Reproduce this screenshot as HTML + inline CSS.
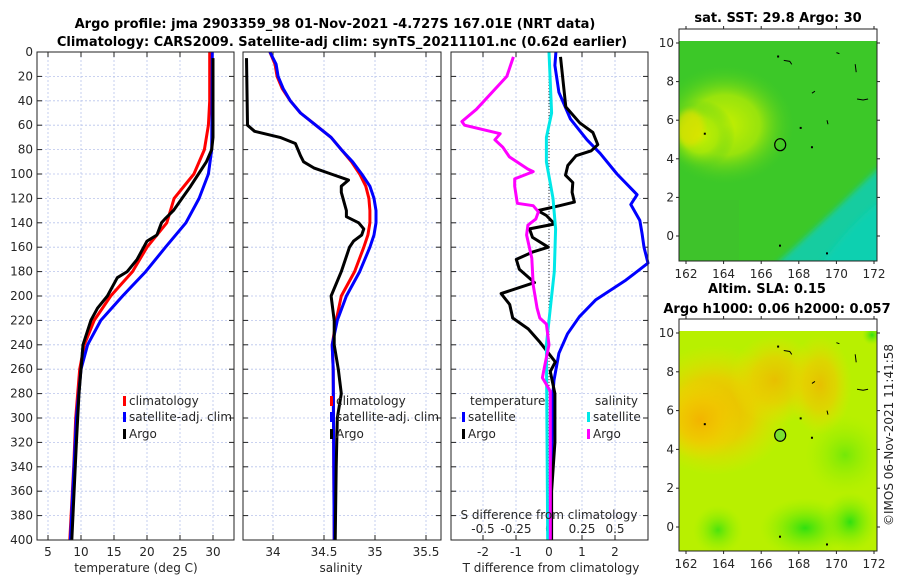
<!DOCTYPE html>
<html><head><meta charset="utf-8"><style>
body{margin:0;background:#fff;}
svg{display:block;font-family:"DejaVu Sans","Liberation Sans",sans-serif;}
.t{font-size:12px;fill:#262626;}
.ttl{font-size:13px;font-weight:bold;fill:#000;}
</style></head><body>
<svg id="c" width="900" height="580" viewBox="0 0 900 580">
<defs>
<radialGradient id="gy" cx="0.5" cy="0.5" r="0.5"><stop offset="0" stop-color="#c8f000"/><stop offset="0.5" stop-color="#a8e808" stop-opacity="0.85"/><stop offset="1" stop-color="#44cc22" stop-opacity="0"/></radialGradient>
<radialGradient id="go" cx="0.5" cy="0.5" r="0.5"><stop offset="0" stop-color="#f2b400"/><stop offset="0.5" stop-color="#f0c800" stop-opacity="0.8"/><stop offset="1" stop-color="#e8e000" stop-opacity="0"/></radialGradient>
<radialGradient id="gg" cx="0.5" cy="0.5" r="0.5"><stop offset="0" stop-color="#30e010"/><stop offset="1" stop-color="#90ee00" stop-opacity="0"/></radialGradient>
<filter id="bl"><feGaussianBlur stdDeviation="3"/></filter>
</defs>
<text class="ttl" x="335" y="28" text-anchor="middle">Argo profile: jma 2903359_98 01-Nov-2021 -4.727S 167.01E (NRT data)</text>
<text class="ttl" x="342" y="46" text-anchor="middle">Climatology: CARS2009. Satellite-adj clim: synTS_20211101.nc (0.62d earlier)</text>
<g id="maps"></g>
<g id="plots"></g>
</svg>
<script>
// ---- data (depth in m) ----
const tClimD=[0,40,60,80,100,120,140,160,180,200,220,240,260,300,340,400];
const tClimV=[29.5,29.5,29.3,28.7,27.1,24.1,23.0,20.0,17.8,14.5,12.0,10.5,9.8,9.2,8.9,8.3];
const tSatD=[0,80,100,120,140,160,180,200,220,240,260,300,400];
const tSatV=[29.9,29.8,29.3,27.9,25.9,22.8,19.8,16.3,13.0,11.0,10.0,9.3,8.4];
const tArgoD=[5,70,80,90,100,110,120,130,137,140,150,155,160,170,180,185,190,195,200,210,220,240,260,280,320,400];
const tArgoV=[30.0,30.0,29.8,29.0,27.8,26.6,25.3,24.0,22.7,22.2,21.5,20.0,19.5,18.5,17.0,15.5,15.0,14.5,14.0,12.5,11.5,10.3,10.0,9.7,9.3,8.6];
const sClimD=[0,10,20,30,40,50,60,70,80,90,100,110,120,130,140,150,160,180,200,220,240,260,400];
const sClimV=[33.97,34.02,34.04,34.09,34.17,34.27,34.42,34.57,34.67,34.77,34.85,34.91,34.94,34.95,34.95,34.93,34.89,34.80,34.67,34.62,34.58,34.59,34.60];
const sSatD=[0,10,20,30,40,50,60,70,80,90,100,110,120,130,140,150,160,180,200,220,240,260,400];
const sSatV=[33.97,34.03,34.05,34.10,34.17,34.27,34.42,34.57,34.67,34.78,34.87,34.95,34.99,35.01,35.01,34.99,34.95,34.85,34.72,34.63,34.58,34.59,34.60];
const sArgoD=[5,60,65,70,75,85,90,95,100,105,110,115,130,135,140,145,150,155,160,180,200,220,240,260,280,300,340,400];
const sArgoV=[33.74,33.75,33.82,34.07,34.22,34.27,34.30,34.40,34.57,34.74,34.67,34.67,34.72,34.72,34.84,34.89,34.87,34.79,34.75,34.67,34.57,34.60,34.60,34.64,34.67,34.63,34.62,34.61];
const dTSatD=[0,11,33,55,72,83,100,117,125,138,149,160,173,187,203,217,231,247,269,286,400];
const dTSatV=[0.21,0.18,0.30,0.65,1.15,1.55,2.06,2.67,2.48,2.75,2.82,2.88,3.0,2.33,1.42,0.92,0.56,0.30,0.15,0.10,0.06];
const dTArgoD=[4,45,58,66,76,81,85,93,101,107,115,123,126,130,134,141,145,152,160,164,170,178,189,198,207,218,227,238,254,262,280,320,360,400];
const dTArgoV=[0.35,0.51,0.93,1.33,1.48,1.28,0.82,0.57,0.50,0.72,0.70,0.77,0.32,-0.34,-0.08,0.17,-0.59,-0.50,-0.02,-0.50,-0.99,-0.90,-0.44,-1.45,-1.19,-1.10,-0.63,-0.27,0.19,0.04,0.18,0.18,0.08,0.08];
const dSSatD=[0,50,70,90,120,145,180,210,240,400];
const dSSatV=[0.0,0.02,-0.02,-0.02,0.03,0.05,0.04,0.01,-0.02,-0.01];
const dSArgoD=[4,20,47,57,60,67,72,78,86,96,98,104,110,124,126,131,137,142,150,169,191,210,218,223,240,256,267,278,400];
const dSArgoV=[-0.27,-0.32,-0.55,-0.66,-0.64,-0.37,-0.41,-0.35,-0.30,-0.16,-0.12,-0.26,-0.26,-0.24,-0.12,-0.08,-0.10,-0.16,-0.17,-0.13,-0.12,-0.09,-0.07,-0.02,0.0,-0.03,-0.05,0.01,0.01];
const depthTicks=[0,20,40,60,80,100,120,140,160,180,200,220,240,260,280,300,320,340,360,380,400];
const tTicks=[5,10,15,20,25,30];
const sTicks=[34,34.5,35,35.5];
const dTTicks=[-2,-1,0,1,2];
const dSTicks=[-0.5,-0.25,0,0.25,0.5];
const latTicks=[0,2,4,6,8,10];
const lonTicks=[162,164,166,168,170,172];

const NS='http://www.w3.org/2000/svg';
const plots=document.getElementById('plots'), maps=document.getElementById('maps');
function mk(tag,attrs,parent){const e=document.createElementNS(NS,tag);for(const k in attrs)e.setAttribute(k,attrs[k]);(parent||plots).appendChild(e);return e;}
const Y0=52,Y1=540;
const yD=d=>Y0+d*(Y1-Y0)/400;
const xT=v=>48+(v-5)*6.6;
const xS=v=>273+(v-34)*102;
const xDT=v=>549+v*33;
const xDS=v=>549+v*132;
const panels=[[37,234],[243,441],[451,648]];

panels.forEach((p,i)=>{
  depthTicks.forEach(d=>{
    const g=mk('line',{x1:p[0],x2:p[1],y1:yD(d),y2:yD(d),stroke:'#b8c4ec','stroke-width':0.8,'stroke-dasharray':'2,2'});
    
    
    mk('line',{x1:p[0],x2:p[0]+5,y1:yD(d),y2:yD(d),stroke:'#222'});
    mk('line',{x1:p[1]-5,x2:p[1],y1:yD(d),y2:yD(d),stroke:'#222'});
    if(i===0){const t=mk('text',{x:33,y:yD(d)+4,'text-anchor':'end',class:'t'});t.textContent=d;
      
      }
  });
});
function xgrid(ticks,fx,p,lblY,name){
  ticks.forEach(v=>{
    const g=mk('line',{x1:fx(v),x2:fx(v),y1:Y0,y2:Y1,stroke:'#b8c4ec','stroke-width':0.8,'stroke-dasharray':'2,2'});
    
    
    mk('line',{x1:fx(v),x2:fx(v),y1:Y0,y2:Y0+5,stroke:'#222'});
    mk('line',{x1:fx(v),x2:fx(v),y1:Y1-5,y2:Y1,stroke:'#222'});
    if(lblY){const t=mk('text',{x:fx(v),y:lblY,'text-anchor':'middle',class:'t'});t.textContent=String(v);
      
      }
  });
}
xgrid(tTicks,xT,panels[0],556,'temperature-tick-label');
xgrid(sTicks,xS,panels[1],556,'salinity-tick-label');
xgrid(dTTicks,xDT,panels[2],556,'t-diff-tick-label');
dSTicks.forEach(v=>{const t=mk('text',{x:xDS(v),y:533,'text-anchor':'middle',class:'t'});t.textContent=String(v);
  
  });
mk('line',{x1:549,x2:549,y1:Y0,y2:Y1,stroke:'#333','stroke-width':1,'stroke-dasharray':'1,2'});

function series(D,V,fx,color,name,w){
  const pts=D.map((d,i)=>fx(V[i]).toFixed(1)+','+yD(d).toFixed(1)).join(' ');
  const l=mk('polyline',{points:pts,fill:'none',stroke:color,'stroke-width':w||3,'stroke-linejoin':'round'});
  
  
}
series(tClimD,tClimV,xT,'#ff0000','temp-climatology-line');
series(tSatD,tSatV,xT,'#0000ff','temp-satellite-line');
series(tArgoD,tArgoV,xT,'#000000','temp-argo-line');
series(sClimD,sClimV,xS,'#ff0000','sal-climatology-line');
series(sSatD,sSatV,xS,'#0000ff','sal-satellite-line');
series(sArgoD,sArgoV,xS,'#000000','sal-argo-line');
series(dTSatD,dTSatV,xDT,'#0000ff','tdiff-satellite-line');
series(dTArgoD,dTArgoV,xDT,'#000000','tdiff-argo-line');
series(dSSatD,dSSatV,xDS,'#00e8e8','sdiff-satellite-line');
series(dSArgoD,dSArgoV,xDS,'#ff00ff','sdiff-argo-line');

panels.forEach(p=>{const r=mk('rect',{x:p[0],y:Y0,width:p[1]-p[0],height:Y1-Y0,fill:'none',stroke:'#222','stroke-width':1});
  
  });

function txt(x,y,s,name,anchor,cls){const t=mk('text',{x:x,y:y,'text-anchor':anchor||'start',class:cls||'t'});t.textContent=s;
  
  return t;}
function leg(x,y,c,s,name){mk('rect',{x:x,y:y-9,width:3,height:10,fill:c});txt(x+6,y,s,name).setAttribute('font-size','13');}
leg(123,405,'#ff0000','climatology','legend-climatology');
leg(123,421,'#0000ff','satellite-adj. clim','legend-satellite');
leg(123,438,'#000000','Argo','legend-argo');
leg(330,405,'#ff0000','climatology','legend2-climatology');
leg(330,421,'#0000ff','satellite-adj. clim','legend2-satellite');
leg(330,438,'#000000','Argo','legend2-argo');
txt(470,405,'temperature','legend-temperature-header');
leg(462,421,'#0000ff','satellite','legend-t-satellite');
leg(462,438,'#000000','Argo','legend-t-argo');
txt(595,405,'salinity','legend-salinity-header');
leg(587,421,'#00e8e8','satellite','legend-s-satellite');
leg(587,438,'#ff00ff','Argo','legend-s-argo');
txt(136,572,'temperature (deg C)','temperature-axis-title','middle');
txt(341,572,'salinity','salinity-axis-title','middle');
txt(551,572,'T difference from climatology','t-diff-axis-title','middle');
txt(549,519,'S difference from climatology','s-diff-axis-title','middle');

function mapPanel(top,dataTop,bottom,lat0,lat10,kind){
  const L=679,R=877;
  const ly=v=>lat0+(lat10-lat0)*v/10;
  const lx=v=>686+(v-162)*18.8;
  const g=mk('g',{},maps);
  
  
  const cp='cl'+kind;
  const clip=mk('clipPath',{id:cp},g);mk('rect',{x:L,y:dataTop,width:R-L,height:bottom-dataTop},clip);
  const gi=mk('g',{'clip-path':'url(#'+cp+')'},g);
  if(kind==='sst'){
    mk('rect',{x:L,y:dataTop,width:R-L,height:bottom-dataTop,fill:'#3cc828'},gi);
    mk('ellipse',{cx:725,cy:125,rx:70,ry:60,fill:'url(#gy)'},gi);
    mk('ellipse',{cx:700,cy:135,rx:35,ry:35,fill:'url(#gy)'},gi);
    mk('ellipse',{cx:690,cy:128,rx:14,ry:18,fill:'#e0e000',opacity:0.7,filter:'url(#bl)'},gi);
    mk('path',{d:`M${R+5} 165 C850 195 820 225 775 265 L${R+5} 265 Z`,fill:'#18cca0',filter:'url(#bl)'},gi);
    mk('path',{d:`M${R+5} 200 C855 220 840 240 820 265 L${R+5} 265 Z`,fill:'#10d0b0',filter:'url(#bl)'},gi);
    mk('rect',{x:L,y:200,width:60,height:61,fill:'#40bc30',opacity:0.4},gi);
  } else {
    mk('rect',{x:L,y:dataTop,width:R-L,height:bottom-dataTop,fill:'#b8f000'},gi);
    mk('ellipse',{cx:715,cy:410,rx:75,ry:65,fill:'url(#go)'},gi);
    mk('ellipse',{cx:700,cy:420,rx:40,ry:40,fill:'url(#go)'},gi);
    mk('ellipse',{cx:775,cy:380,rx:45,ry:45,fill:'url(#go)',opacity:0.8},gi);
    mk('ellipse',{cx:820,cy:385,rx:32,ry:50,fill:'url(#go)',opacity:0.8},gi);
    mk('ellipse',{cx:805,cy:528,rx:45,ry:30,fill:'url(#gg)'},gi);
    mk('ellipse',{cx:850,cy:522,rx:28,ry:30,fill:'url(#gg)'},gi);
    mk('ellipse',{cx:718,cy:530,rx:25,ry:25,fill:'url(#gg)',opacity:0.8},gi);
    mk('ellipse',{cx:845,cy:455,rx:40,ry:40,fill:'url(#gg)',opacity:0.5},gi);
    mk('ellipse',{cx:872,cy:335,rx:10,ry:10,fill:'url(#gg)'},gi);
  }
  const ex=lx(167.01), ey=ly(4.73);
  mk('ellipse',{cx:ex,cy:ey,rx:5.5,ry:6,fill:kind==='sst'?'none':'#7ae030',stroke:'#000','stroke-width':1.2},g);
  [[163,5.3],[168.1,5.6],[168.7,4.6],[167,-0.5],[169.5,-0.9],[166.9,9.3]].forEach(p=>mk('rect',{x:lx(p[0])-1,y:ly(p[1])-1,width:2,height:2,fill:'#000'},g));
  mk('path',{d:`M${lx(167.2)} ${ly(9.1)} l6 1 l2 3 M${lx(171)} ${ly(8.9)} l1 8 M${lx(171.1)} ${ly(7.1)} l6 1 l5 -1 M${lx(168.7)} ${ly(7.4)} l3 -2 M${lx(169.5)} ${ly(6)} l1 4 M${lx(170)} ${ly(9.5)} l3 1`,stroke:'#000','stroke-width':1,fill:'none'},g);
  mk('rect',{x:L,y:top,width:R-L,height:bottom-top,fill:'none',stroke:'#222'},g);
  latTicks.forEach(v=>{mk('line',{x1:L,x2:L-3,y1:ly(v),y2:ly(v),stroke:'#222'},g);mk('line',{x1:R,x2:R+3,y1:ly(v),y2:ly(v),stroke:'#222'},g);
    const t=mk('text',{x:674,y:ly(v)+4,'text-anchor':'end',class:'t'},g);t.textContent=v;
    
    });
  lonTicks.forEach(v=>{mk('line',{x1:lx(v),x2:lx(v),y1:bottom,y2:bottom+3,stroke:'#222'},g);mk('line',{x1:lx(v),x2:lx(v),y1:top,y2:top-3,stroke:'#222'},g);
    const t=mk('text',{x:lx(v),y:bottom+17,'text-anchor':'middle',class:'t'},g);t.textContent=v;
    
    });
}
mapPanel(29,41,261,236,43,'sst');
mapPanel(319,331,551,527,333,'sla');
txt(778,22,'sat. SST: 29.8 Argo: 30','sst-map-title','middle','ttl');
txt(767,293,'Altim. SLA: 0.15','sla-map-title','middle','ttl');
txt(777,313,'Argo h1000: 0.06 h2000: 0.057','sla-map-subtitle','middle','ttl');
const cr=txt(0,0,'©IMOS 06-Nov-2021 11:41:58','imos-timestamp','middle');
cr.setAttribute('transform','translate(893,435) rotate(-90)');
</script>
</body></html>
